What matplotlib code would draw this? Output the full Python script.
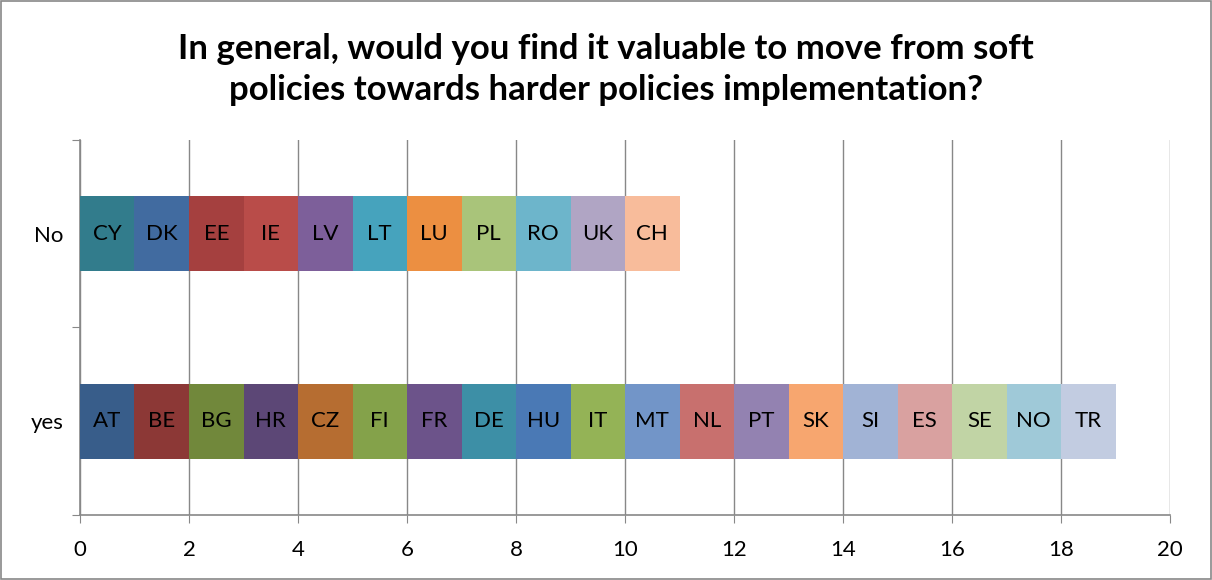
import matplotlib.pyplot as plt
import numpy as np

# data
categories = ['yes', 'No']
yes_countries = ['AT', 'BE', 'BG', 'HR', 'CZ', 'FI', 'FR', 'DE', 'HU', 'IT',
                 'MT', 'NL', 'PT', 'SK', 'SI', 'ES', 'SE', 'NO', 'TR']
yes_colors = ['#385d8a', '#8c3836', '#71883b', '#5c4776', '#b66d31', '#84a24a',
              '#6c538a', '#3d8fa6', '#4a79b5', '#94b356', '#7295c8', '#c8706e',
              '#9382b1', '#f7a66f', '#a1b3d5', '#d9a1a0', '#c1d4a5', '#9fc9d8',
              '#c2cce1']
no_countries = ['CY', 'DK', 'EE', 'IE', 'LV', 'LT', 'LU', 'PL', 'RO', 'UK', 'CH']
no_colors = ['#327c8c', '#416ba0', '#a5403f', '#b94c49', '#7d5f9a', '#46a3bd',
             '#ec8f41', '#a9c47a', '#6db5cb', '#b0a5c4', '#f8bc9b']
x_ticks = np.arange(0, 21, 2)

plt.rcParams['font.family'] = ['Lato', 'DejaVu Sans']

fig = plt.figure(figsize=(12.12, 5.8), dpi=100)
ax = fig.add_axes([0.066, 0.112, 0.8994, 0.647])

groups = [(yes_countries, yes_colors), (no_countries, no_colors)]
for yi, (names, cols) in enumerate(groups):
    left = 0
    for name, c in zip(names, cols):
        ax.barh(yi, 1, left=left, height=0.4, color=c, zorder=3)
        ax.text(left + 0.5, yi, name, ha='center', va='center', fontsize=16,
                color='black', zorder=4)
        left += 1

ax.set_xlim(0, 20)
ax.set_ylim(-0.5, 1.5)
ax.set_xticks(x_ticks)
ax.set_xticklabels([str(t) for t in x_ticks], fontsize=16)
ax.set_yticks([-0.5, 0.5, 1.5])
ax.set_yticklabels([])
ax.set_yticks([0, 1], minor=True)
ax.set_yticklabels(categories, minor=True, fontsize=16)
ax.tick_params(axis='y', which='minor', length=0, pad=12)
ax.tick_params(axis='y', which='major', length=6, color='#888888', direction='out')
ax.tick_params(axis='x', length=6, color='#888888', direction='out', pad=12)
ax.grid(axis='x', color='#888888', linewidth=1, zorder=0)

for s in ['top', 'right']:
    ax.spines[s].set_visible(False)
for s in ['left', 'bottom']:
    ax.spines[s].set_color('#888888')
    ax.spines[s].set_linewidth(1.2)

fig.text(0.5, 0.88, 'In general, would you find it valuable to move from soft\n'
         'policies towards harder policies implementation?',
         ha='center', va='center', fontsize=25, fontweight='bold',
         linespacing=1.35)

fig.patches.append(plt.Rectangle((0.001, 0.001), 0.998, 0.998,
                                 transform=fig.transFigure, fill=False,
                                 edgecolor='#888888', linewidth=1.2))

fig.savefig('out.png', dpi=100)
